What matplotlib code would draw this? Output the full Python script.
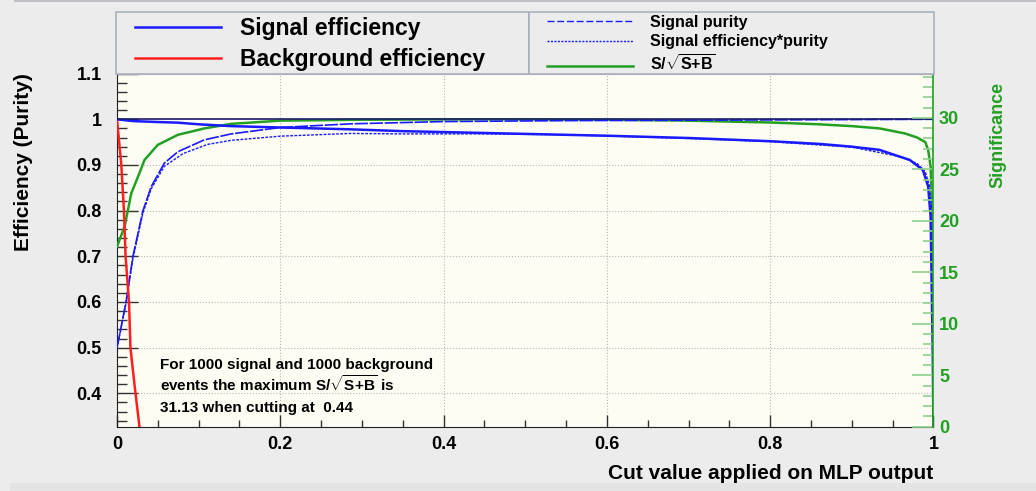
import numpy as np
import matplotlib.pyplot as plt
from matplotlib.patches import Rectangle
from matplotlib.lines import Line2D
from matplotlib.ticker import MultipleLocator

# values
x_sig_eff = [0, 0.02, 0.05, 0.0746, 0.1, 0.14, 0.2, 0.286, 0.35, 0.45, 0.6, 0.7, 0.8,
             0.861, 0.9, 0.934, 0.959, 0.971, 0.987, 0.9935, 0.9965, 0.999, 1.0]
sig_eff = [1.0, 0.996, 0.994, 0.9926, 0.989, 0.985, 0.982, 0.978, 0.974, 0.970, 0.964, 0.959,
           0.952, 0.946, 0.940, 0.933, 0.918, 0.911, 0.889, 0.853, 0.787, 0.50, 0.33]

x_bkg_eff = [0, 0.0053, 0.0085, 0.0105, 0.0147, 0.0165, 0.022, 0.028]
bkg_eff = [1.0, 0.90, 0.80, 0.70, 0.60, 0.50, 0.41, 0.32]

x_purity = [0, 0.004, 0.0114, 0.0195, 0.0318, 0.042, 0.058, 0.0746, 0.107, 0.14, 0.2,
            0.286, 0.4, 0.55, 0.7, 0.85, 1.0]
purity = [0.50, 0.535, 0.604, 0.70, 0.80, 0.853, 0.904, 0.929, 0.955, 0.968, 0.982,
          0.990, 0.995, 0.997, 0.998, 0.999, 1.0]

x_effpur = [0, 0.004, 0.0114, 0.0195, 0.0318, 0.042, 0.058, 0.081, 0.111, 0.14, 0.2,
            0.286, 0.35, 0.45, 0.55, 0.7, 0.8, 0.9, 0.96, 0.98, 0.99, 0.995, 0.998, 1.0]
effpur = [0.50, 0.535, 0.60, 0.695, 0.795, 0.848, 0.897, 0.925, 0.945, 0.954, 0.963,
          0.969, 0.968, 0.968, 0.966, 0.958, 0.951, 0.939, 0.918, 0.903, 0.885, 0.855, 0.80, 0.37]

# S/sqrt(S+B), normalised to its maximum (31.13 at 0.44)
x_signif = [0, 0.005, 0.0093, 0.0175, 0.0257, 0.0337, 0.05, 0.0746, 0.107, 0.14, 0.2,
            0.3, 0.44, 0.6, 0.7, 0.8, 0.86, 0.9, 0.934, 0.965, 0.98, 0.99, 0.9935,
            0.9965, 0.9995, 1.0]
signif = [0.721, 0.745, 0.765, 0.838, 0.874, 0.911, 0.944, 0.966, 0.980, 0.990, 0.997,
          0.999, 1.0, 0.999, 0.997, 0.993, 0.989, 0.985, 0.980, 0.969, 0.960, 0.950,
          0.933, 0.896, 0.75, 0.61]

n_sig = 1000
n_bkg = 1000
max_signif = 31.13
best_cut = 0.44

plt.rcParams['font.family'] = ['Liberation Sans', 'DejaVu Sans']
plt.rcParams['font.weight'] = 'bold'
plt.rcParams['axes.labelweight'] = 'bold'
plt.rcParams['mathtext.fontset'] = 'custom'
plt.rcParams['mathtext.rm'] = 'Liberation Sans:bold'
plt.rcParams['mathtext.bf'] = 'Liberation Sans:bold'
plt.rcParams['mathtext.it'] = 'Liberation Sans:bold'

bg = '#ececec'
frame = '#a9b0bb'
green = '#22a022'
green_lt = '#8ed08e'
blue = '#1a1aff'
red = '#ff1f1f'
sqrt_sb = 'S/$\\sqrt{\\mathrm{S{+}B}}$'

fig = plt.figure(figsize=(10.36, 4.91), dpi=100, facecolor=bg)
# thin border line at the top and lower band
fig.add_artist(Line2D([15 / 1036, 1], [0.998, 0.998], color='#b4b8c0', lw=1.2))
fig.add_artist(Rectangle((10 / 1036, 0), 1, 8 / 491, color='#e4e4e4', lw=0))

ax = fig.add_axes([0.11293, 0.131, 0.7881, 0.7191])
ax.set_facecolor('#fdfdf4')

ax.plot(x_bkg_eff, bkg_eff, color=red, lw=1.8, zorder=4)
ax.plot(x_signif, signif, color=green, lw=1.8, zorder=3)
ax.plot(x_purity, purity, color=blue, lw=1.2, ls=(0, (8, 1)), zorder=3)
ax.plot(x_effpur, effpur, color=blue, lw=1.0, ls=(0, (2, 1)), zorder=3)
ax.plot(x_sig_eff, sig_eff, color=blue, lw=1.8, zorder=4)
ax.axhline(1.0, color='#1c1c6c', lw=1.2, zorder=5)

ax.set_xlim(0, 1)
ax.set_ylim(0.327, 1.1)
ax.xaxis.set_minor_locator(MultipleLocator(0.05))
ax.yaxis.set_minor_locator(MultipleLocator(0.02))
ax.set_xticks([0, 0.2, 0.4, 0.6, 0.8, 1.0])
ax.set_xticklabels(['0', '0.2', '0.4', '0.6', '0.8', '1'])
ax.set_yticks([0.4, 0.5, 0.6, 0.7, 0.8, 0.9, 1.0, 1.1])
ax.set_yticklabels(['0.4', '0.5', '0.6', '0.7', '0.8', '0.9', '1', '1.1'])
ax.grid(True, which='major', ls=':', color='#b8b8b8', lw=0.8)
ax.tick_params(axis='y', which='major', direction='in', length=15, width=1, color='#333333',
               labelsize=13, pad=11)
ax.tick_params(axis='y', which='minor', direction='in', length=7, width=1, color='#333333')
ax.tick_params(axis='x', which='major', direction='in', length=9, width=1, color='#333333',
               labelsize=13, pad=7)
ax.tick_params(axis='x', which='minor', direction='in', length=5, width=1, color='#333333')
ax.spines['left'].set_color('#222222')
ax.spines['bottom'].set_color('#222222')
ax.spines['top'].set_color(frame)
ax.spines['right'].set_visible(False)

ax.set_xlabel('Cut value applied on MLP output', fontsize=15, loc='right')
ax.xaxis.set_label_coords(1.0, -0.105)
ax.set_ylabel('Efficiency (Purity)', fontsize=15, loc='top')
ax.yaxis.set_label_coords(-0.103, 1.0)

note = ['For %d signal and %d background' % (n_sig, n_bkg),
        'events the maximum %s is' % sqrt_sb,
        '%.2f when cutting at  %.2f' % (max_signif, best_cut)]
for line, yb in zip(note, [0.1626, 0.102, 0.0425]):
    ax.text(0.0526, yb, line, transform=ax.transAxes, fontsize=11, va='baseline',
            ha='left', zorder=6)

ax2 = ax.twinx()
ax2.set_ylim(0, 34.3)
ax2.yaxis.set_minor_locator(MultipleLocator(1))
ax2.set_yticks([0, 5, 10, 15, 20, 25, 30])
ax2.tick_params(axis='y', which='major', direction='in', length=15, width=1.2, color=green_lt,
                labelsize=13, labelcolor=green, pad=4)
ax2.tick_params(axis='y', which='minor', direction='in', length=7, width=1.2, color=green_lt)
for s in ['left', 'top', 'bottom']:
    ax2.spines[s].set_visible(False)
ax2.spines['right'].set_color(green)
ax2.spines['right'].set_linewidth(1.2)
ax2.set_ylabel('Significance', fontsize=13, color=green, loc='top')
ax2.yaxis.set_label_coords(1.069, 0.976)

# legend boxes above the frame
fig.add_artist(Rectangle((116 / 1036, 0.850), (529 - 116) / 1036, 61.6 / 491,
                         facecolor=bg, edgecolor=frame, lw=1.2))
fig.add_artist(Rectangle((529 / 1036, 0.850), (933.5 - 529) / 1036, 61.6 / 491,
                         facecolor=bg, edgecolor=frame, lw=1.2))

h1 = [Line2D([], [], color=blue, lw=1.8), Line2D([], [], color=red, lw=1.8)]
fig.legend(h1, ['Signal efficiency', 'Background efficiency'], loc='center left',
           bbox_to_anchor=(135 / 1036, 1 - 44 / 491), frameon=False, fontsize=16.5,
           borderpad=0, borderaxespad=0, handlelength=3.75, handletextpad=0.82,
           labelspacing=0.33)

h2 = [Line2D([], [], color=blue, lw=1.0, ls=(0, (5, 2))),
      Line2D([], [], color=blue, lw=1.0, ls=(0, (1.5, 1))),
      Line2D([], [], color=green, lw=1.8)]
fig.legend(h2, ['Signal purity', 'Signal efficiency*purity', sqrt_sb],
           loc='center left', bbox_to_anchor=(547 / 1036, 1 - 44.5 / 491), frameon=False,
           fontsize=11.5, borderpad=0, borderaxespad=0, handlelength=5.4,
           handletextpad=1.05, labelspacing=0.3)

fig.savefig('out.png', dpi=100, facecolor=bg)
